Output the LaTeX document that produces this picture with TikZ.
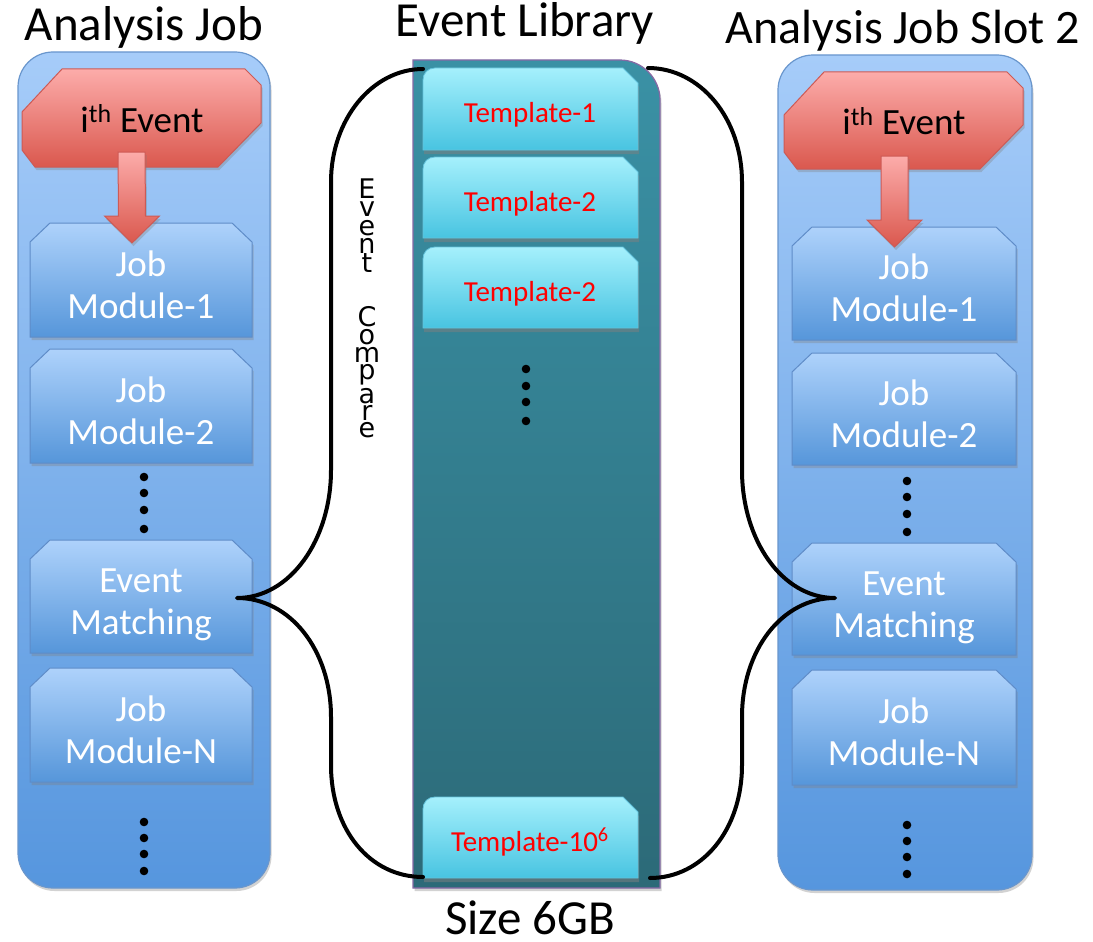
\documentclass[tikz,border=0pt]{standalone}
\usepackage{fontspec}
\setmainfont{Carlito}
\newfontfamily\stackfont{DejaVu Sans}
\usetikzlibrary{shadows,calc}

\definecolor{colTop}{RGB}{166,204,249}
\definecolor{colBot}{RGB}{86,150,222}
\definecolor{colEdge}{RGB}{105,150,205}
\definecolor{modTop}{RGB}{174,210,251}
\definecolor{modBot}{RGB}{86,150,218}
\definecolor{modEdge}{RGB}{95,140,200}
\definecolor{redTop}{RGB}{252,172,170}
\definecolor{redBot}{RGB}{218,88,78}
\definecolor{redEdge}{RGB}{205,90,85}
\definecolor{libTop}{RGB}{58,145,165}
\definecolor{libBot}{RGB}{44,106,120}
\definecolor{libEdge}{RGB}{135,105,165}
\definecolor{tplTop}{RGB}{165,240,252}
\definecolor{tplBot}{RGB}{72,196,225}
\definecolor{tplEdge}{RGB}{100,195,220}

\tikzset{
  softshadow/.style={drop shadow={opacity=0.35, shadow xshift=1.5pt, shadow yshift=-3pt}},
  column/.style={draw=colEdge, line width=1.2pt, rounded corners=35pt,
    top color=colTop, bottom color=colBot, softshadow},
  modbox/.style={draw=modEdge, line width=1pt, top color=modTop, bottom color=modBot, softshadow},
  redbox/.style={draw=redEdge, line width=1pt, top color=redTop, bottom color=redBot, softshadow},
  library/.style={draw=libEdge, line width=1.2pt, top color=libTop, bottom color=libBot, softshadow},
  tplbox/.style={draw=tplEdge, line width=0.8pt, top color=tplTop, bottom color=tplBot,
    drop shadow={opacity=0.5, shadow xshift=1pt, shadow yshift=-4pt}},
  modtext/.style={text=white, align=center, inner sep=0pt, font=\fontsize{37}{42}\selectfont},
  evtext/.style={text=black, inner sep=0pt, anchor=base, font=\fontsize{37}{42}\selectfont},
  tpltext/.style={text=red, inner sep=0pt, text height=20pt, text depth=6pt,
    font=\fontsize{29}{34}\selectfont},
  title/.style={text=black, inner sep=0pt, anchor=base, text depth=0pt, font=\fontsize{49}{56}\selectfont},
  stackletter/.style={text=black, inner sep=0pt, anchor=base, text depth=0pt,
    font=\stackfont\fontsize{27}{30}\selectfont},
  brace/.style={draw=black, line width=4pt, line cap=round, line join=round},
  dot/.style={fill=black},
}

% job module: name, x1, y1, x2, y2, first line, second line
\newcommand\jobmod[7]{%
  \path[modbox] (#2,#5) -- (#2,#3+19) -- (#2+20,#3) -- (#4-20,#3) -- (#4,#3+19) -- (#4,#5) -- cycle;
  \node[modtext, minimum width=#4-#2, minimum height=#5-#3] (#1) at ({(#2+#4)/2},{(#3+#5)/2+9})
    {\strut #6\\\strut #7};
}
% event block: name, x1, y1, x2, y2, text x
\newcommand\evblock[6]{%
  \path[redbox] (#2+40,#3) -- (#4-16,#3) -- (#4,#3+16) -- (#4,#5-44) -- (#4-43,#5)
     -- (#2+13,#5) -- (#2,#5-17) -- (#2,#3+43) -- cycle;
  \node[evtext] (#1) at (#6,#3+63) {i\textsuperscript{th} Event};
}
% template card: name, y1, y2, text
\newcommand\tplcard[4]{%
  \path[tplbox] (423,#3) -- (423,#2+12) .. controls (423,#2+5) and (428,#2) .. (435,#2)
     -- (623,#2) -- (638,#2+15) -- (638,#3) -- cycle;
  \node[tpltext, minimum width=215, minimum height=#3-#2] (#1) at (530,{(#2+#3)/2+6.5}) {#4};
}
% block arrow between two named points (top centre, tip)
\newcommand\blockarrow[2]{%
  \path[redbox] ($(#1)+(-13.5,0)$) -- ($(#1)+(13.5,0)$) -- ($(#2)+(13.5,-27)$) -- ($(#2)+(27.5,-27)$)
     -- (#2) -- ($(#2)+(-27.5,-27)$) -- ($(#2)+(-13.5,-27)$) -- cycle;
}

\begin{document}
\begin{tikzpicture}[x=1pt, y=-1pt]
\useasboundingbox (0,0) rectangle (1093,942);
\fill[white] (0,0) rectangle (1093,942);

% ---------- titles ----------
\node[title] (t1) at (144,41) {Analysis Job};
\node[title] (t2) at (525,37) {Event Library};
\node[title, font=\fontsize{48}{56}\selectfont] (t3) at (903,44) {Analysis Job Slot 2};
\node[title] (t4) at (530,934) {Size 6GB};

% ---------- left analysis job ----------
\path[column] (18,52) rectangle (270,888);
\evblock{evL}{22}{69}{261}{167}{142}
\jobmod{m1L}{30}{223}{252}{337}{Job}{Module-1}
\jobmod{m2L}{30}{349}{252}{463}{Job}{Module-2}
\jobmod{emL}{30}{540}{252}{653}{Event}{Matching}
\jobmod{mnL}{30}{668}{252}{782}{Job}{Module-N}
\coordinate (aLs) at (131.5,152);
\coordinate (aLt) at (132,243);
\blockarrow{aLs}{aLt}
\foreach \y in {477,493,510,529} \fill[dot] (144,\y) circle (4.3);
\foreach \y in {822,838,854,871} \fill[dot] (144,\y) circle (4.3);

% ---------- right analysis job ----------
\path[column] (778,55) rectangle (1032,890);
\evblock{evR}{784}{72}{1023}{169}{904}
\jobmod{m1R}{792}{227}{1016}{340}{Job}{Module-1}
\jobmod{m2R}{792}{353}{1016}{465}{Job}{Module-2}
\jobmod{emR}{792}{543}{1016}{655}{Event}{Matching}
\jobmod{mnR}{792}{670}{1016}{785}{Job}{Module-N}
\coordinate (aRs) at (894.5,156);
\coordinate (aRt) at (894.5,247);
\blockarrow{aRs}{aRt}
\foreach \y in {481,497,514,532} \fill[dot] (907,\y) circle (4.3);
\foreach \y in {825,841,857,874} \fill[dot] (907,\y) circle (4.3);

% ---------- event library ----------
\path[library] (413,888) -- (413,60) -- (620,60) .. controls (642,60) and (660,78) .. (660,100)
   -- (660,888) -- cycle;
\tplcard{tp1}{68}{150}{Template-1}
\tplcard{tp2}{157}{238}{Template-2}
\tplcard{tp3}{247}{328}{Template-2}
\tplcard{tpN}{797}{878}{Template-10\textsuperscript{6}}
\foreach \y in {369,386,402,421} \fill[dot] (526,\y) circle (4.3);

% ---------- braces ----------
\coordinate (bLtop) at (423,69);
\coordinate (bLbot) at (423,877);
\coordinate (bLtip) at (237,598);
\draw[brace] (bLtop) .. controls (372,69) and (331,120) .. (331,182) -- (331,470)
   .. controls (331,540) and (290,598) .. (bLtip)
   .. controls (290,598) and (331,650) .. (331,717) -- (331,765)
   .. controls (331,830) and (370,877) .. (bLbot);

\coordinate (bRtop) at (648,68);
\coordinate (bRbot) at (650,878);
\coordinate (bRtip) at (835,598);
\draw[brace] (bRtop) .. controls (700,68) and (742,118) .. (742,182) -- (742,470)
   .. controls (742,540) and (782,598) .. (bRtip)
   .. controls (782,598) and (742,650) .. (742,717) -- (742,765)
   .. controls (742,830) and (702,878) .. (bRbot);

% ---------- stacked label, one letter per line ----------
\foreach \ch/\yb [count=\k] in {E/198, v/216, e/235, n/253, t/272,
    C/326, o/344, m/362, p/379, a/403, r/420, e/437}
  \node[stackletter] (cmp\k) at (367,\yb) {\ch};
\end{tikzpicture}
\end{document}
